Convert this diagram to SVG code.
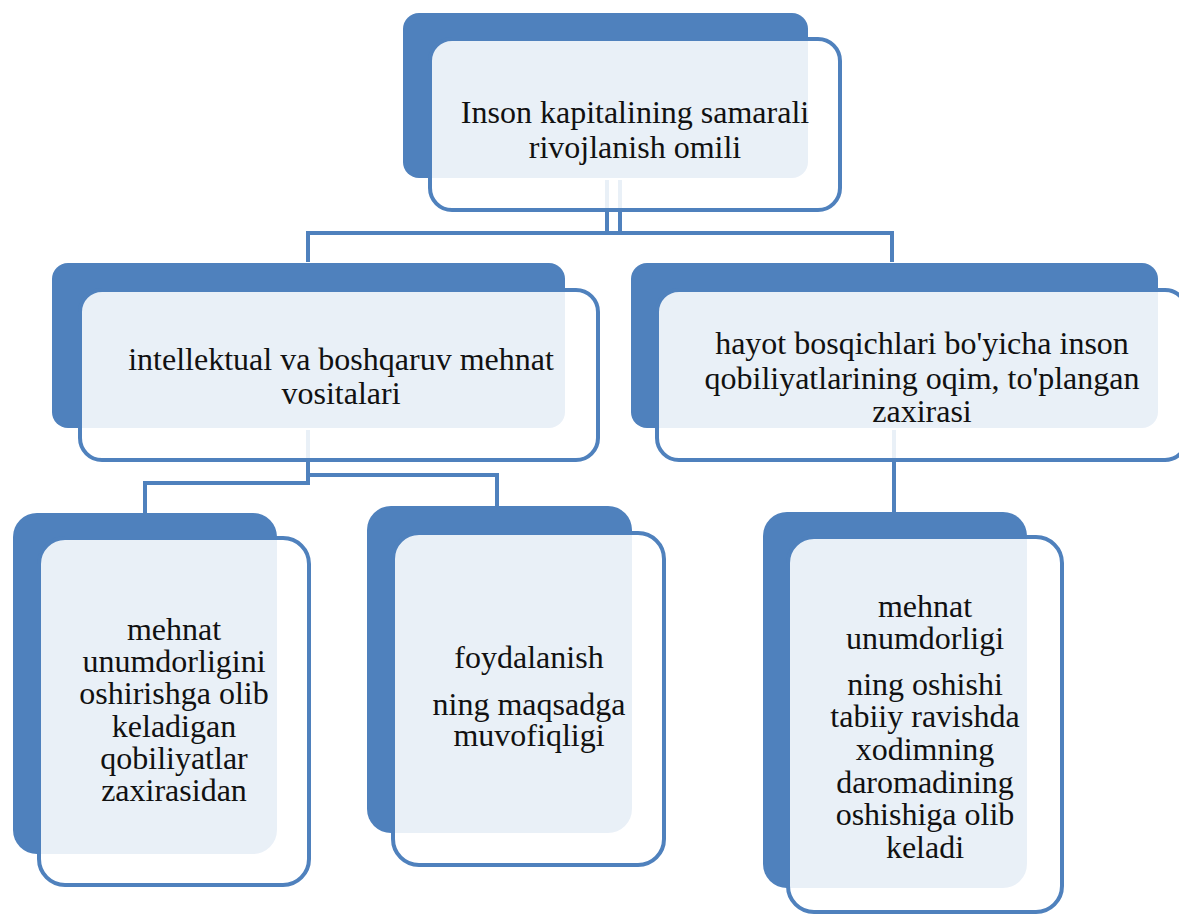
<svg xmlns="http://www.w3.org/2000/svg" width="1179" height="917" viewBox="0 0 1179 917">
<style>
.back{fill:#4F81BD}
.front{fill:#ffffff;fill-opacity:0.88;stroke:#4F81BD;stroke-width:4}
.conn{fill:none;stroke:#4F81BD;stroke-width:4}
.t{font-family:"Liberation Serif","Times New Roman",Tinos,serif !important;font-size:32px;fill:#111111;text-anchor:middle}
</style>
<rect width="1179" height="917" fill="#ffffff"/>
<g id="connectors">
<path class="conn" d="M607,180 V235 M620,180 V235"/>
<path class="conn" d="M308,262 V233 H892 V262"/>
<path class="conn" d="M308,430 V483 H145 V513"/>
<path class="conn" d="M308,475 H497 V506"/>
<path class="conn" d="M894,430 V512"/>
</g>
<g id="node-top">
<rect class="back" x="403" y="13" width="405" height="165" rx="16"/>
<rect class="front" x="430" y="39" width="410" height="171" rx="22"/>
<text class="t" style="font-family:'Liberation Serif',serif" x="635" y="123">Inson kapitalining samarali</text>
<text class="t" style="font-family:'Liberation Serif',serif" x="635" y="158">rivojlanish omili</text>
</g>
<g id="node-left">
<rect class="back" x="52" y="263" width="513" height="165" rx="16"/>
<rect class="front" x="80" y="290" width="518" height="170" rx="22"/>
<text class="t" style="font-family:'Liberation Serif',serif" x="341" y="370">intellektual va boshqaruv mehnat</text>
<text class="t" style="font-family:'Liberation Serif',serif" x="341" y="404">vositalari</text>
</g>
<g id="node-right">
<rect class="back" x="631" y="263" width="527" height="165" rx="16"/>
<rect class="front" x="657" y="290" width="530" height="170" rx="22"/>
<text class="t" style="font-family:'Liberation Serif',serif" x="922" y="354">hayot bosqichlari bo'yicha inson</text>
<text class="t" style="font-family:'Liberation Serif',serif" x="922" y="389">qobiliyatlarining oqim, to'plangan</text>
<text class="t" style="font-family:'Liberation Serif',serif" x="922" y="422">zaxirasi</text>
</g>
<g id="node-bl">
<rect class="back" x="13" y="513" width="264" height="341" rx="24"/>
<rect class="front" x="39" y="538" width="270" height="347" rx="26"/>
<text class="t" style="font-family:'Liberation Serif',serif" x="174" y="640">mehnat</text>
<text class="t" style="font-family:'Liberation Serif',serif" x="174" y="672">unumdorligini</text>
<text class="t" style="font-family:'Liberation Serif',serif" x="174" y="704">oshirishga olib</text>
<text class="t" style="font-family:'Liberation Serif',serif" x="174" y="737">keladigan</text>
<text class="t" style="font-family:'Liberation Serif',serif" x="174" y="769">qobiliyatlar</text>
<text class="t" style="font-family:'Liberation Serif',serif" x="174" y="801">zaxirasidan</text>
</g>
<g id="node-bm">
<rect class="back" x="367" y="506" width="265" height="327" rx="24"/>
<rect class="front" x="393" y="533" width="271" height="332" rx="26"/>
<text class="t" style="font-family:'Liberation Serif',serif" x="529" y="668">foydalanish</text>
<text class="t" style="font-family:'Liberation Serif',serif" x="529" y="715">ning maqsadga</text>
<text class="t" style="font-family:'Liberation Serif',serif" x="529" y="746">muvofiqligi</text>
</g>
<g id="node-br">
<rect class="back" x="763" y="512" width="264" height="376" rx="24"/>
<rect class="front" x="788" y="537" width="274" height="375" rx="26"/>
<text class="t" style="font-family:'Liberation Serif',serif" x="925" y="617">mehnat</text>
<text class="t" style="font-family:'Liberation Serif',serif" x="925" y="649">unumdorligi</text>
<text class="t" style="font-family:'Liberation Serif',serif" x="925" y="695">ning oshishi</text>
<text class="t" style="font-family:'Liberation Serif',serif" x="925" y="727">tabiiy ravishda</text>
<text class="t" style="font-family:'Liberation Serif',serif" x="925" y="760">xodimning</text>
<text class="t" style="font-family:'Liberation Serif',serif" x="925" y="793">daromadining</text>
<text class="t" style="font-family:'Liberation Serif',serif" x="925" y="825">oshishiga olib</text>
<text class="t" style="font-family:'Liberation Serif',serif" x="925" y="858">keladi</text>
</g>
</svg>
